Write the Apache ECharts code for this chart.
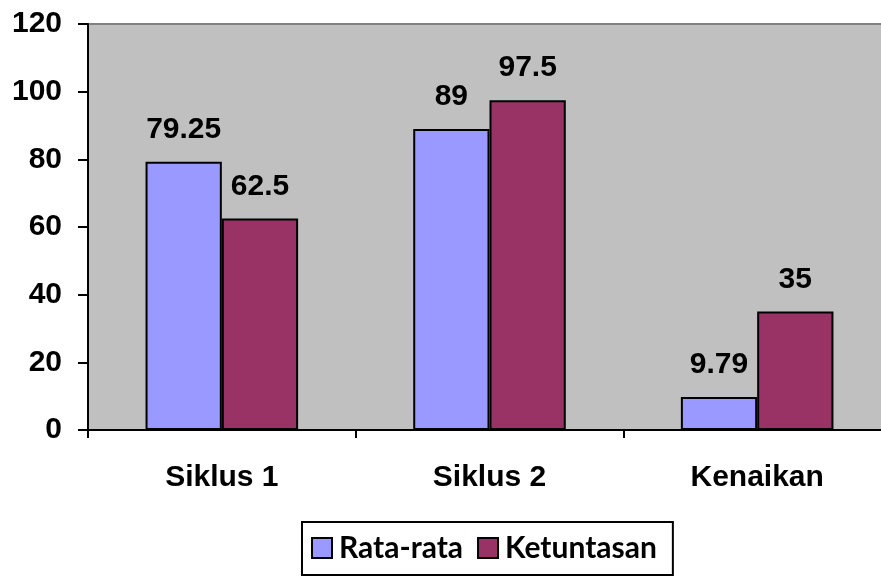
<!DOCTYPE html>
<html>
<head>
<meta charset="utf-8">
<script src="https://cdn.jsdelivr.net/npm/echarts@6/dist/echarts.min.js"></script>
<style>
  html, body { margin: 0; padding: 0; background: #fff; }
  #chart { width: 881px; height: 576px; }
</style>
</head>
<body>
<div id="chart"></div>
<script>
  var categories = ['Siklus 1', 'Siklus 2', 'Kenaikan'];
  var rataRata = [79.25, 89, 9.79];
  var ketuntasan = [62.5, 97.5, 35];
  var seriesNames = ['Rata-rata', 'Ketuntasan'];

  var labelStyle = {
    show: true,
    position: 'top',
    distance: 17,
    color: '#000',
    fontFamily: 'Liberation Sans',
    fontWeight: 'bold',
    fontSize: 30
  };

  var option = {
    animation: false,
    backgroundColor: '#fff',
    grid: {
      left: 88,
      top: 24,
      width: 803,
      height: 406,
      outerBoundsMode: 'none',
      show: true,
      backgroundColor: '#C0C0C0',
      borderWidth: 0
    },
    legend: {
      top: 522,
      left: 302,
      data: seriesNames,
      icon: 'rect',
      itemWidth: 20,
      itemHeight: 20,
      itemGap: 14,
      padding: [11, 16, 12, 9],
      borderColor: '#000',
      borderWidth: 2,
      textStyle: {
        color: '#000',
        fontFamily: 'Lato',
        fontWeight: 'bold',
        fontSize: 30,
        padding: [0, 0, 0, 2]
      }
    },
    xAxis: {
      type: 'category',
      data: categories,
      axisLine: { lineStyle: { color: '#000', width: 2 } },
      axisTick: { show: true, length: 8, lineStyle: { color: '#000', width: 2 } },
      axisLabel: {
        color: '#000',
        fontFamily: 'Liberation Sans',
        fontWeight: 'bold',
        fontSize: 30,
        margin: 33
      }
    },
    yAxis: {
      type: 'value',
      min: 0,
      max: 120,
      interval: 20,
      axisLine: { show: true, lineStyle: { color: '#000', width: 2 } },
      axisTick: { show: true, length: 10, lineStyle: { color: '#000', width: 2 } },
      splitLine: { show: false },
      axisLabel: {
        color: '#000',
        fontFamily: 'Liberation Sans',
        fontWeight: 'bold',
        fontSize: 30,
        margin: 26
      }
    },
    series: [
      {
        name: seriesNames[0],
        type: 'bar',
        data: rataRata,
        barGap: '0%',
        barCategoryGap: '43%',
        itemStyle: { color: '#9999FF', borderColor: '#000', borderWidth: 2 },
        label: labelStyle
      },
      {
        name: seriesNames[1],
        type: 'bar',
        data: ketuntasan,
        itemStyle: { color: '#993366', borderColor: '#000', borderWidth: 2 },
        label: labelStyle
      }
    ],
    // top border of the plot area is a thin grey line
    graphic: [{
      type: 'line',
      shape: { x1: 88, y1: 24, x2: 881, y2: 24 },
      style: { stroke: '#808080', lineWidth: 2 }
    }]
  };

  var chart = echarts.init(document.getElementById('chart'));
  chart.setOption(option);
</script>
</body>
</html>
